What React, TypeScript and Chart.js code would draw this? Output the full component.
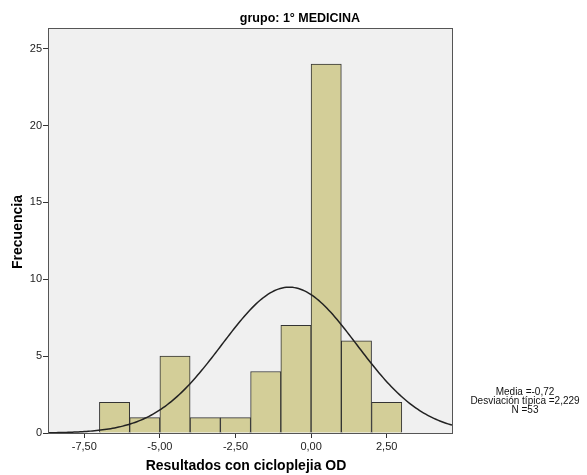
import React, { useEffect, useRef } from "react";
import { Chart, registerables } from "chart.js";

Chart.register(...registerables);

// Histogram bins (lower edges), bin width 1
const binStarts = [-7, -6, -5, -4, -3, -2, -1, 0, 1, 2];
const frequencies = [2, 1, 5, 1, 1, 4, 7, 24, 6, 2];
const xTickValues = [-7.5, -5, -2.5, 0, 2.5];
const yTickValues = [0, 5, 10, 15, 20, 25];
const MEAN = -0.72;
const SD = 2.229;
const N = 53;
const BIN_WIDTH = 1;
const titleText = "grupo: 1° MEDICINA";
const xTitle = "Resultados con cicloplejia OD";
const yTitle = "Frecuencia";
const statsLines = ["Media =-0,72", "Desviación típica =2,229", "N =53"];

const X_MIN = -8.7;
const X_MAX = 4.66;
const Y_MAX = 26.35;

function fmt(v: number) {
  return v.toFixed(2).replace(".", ",");
}

export default function App() {
  const ref = useRef<HTMLCanvasElement | null>(null);
  useEffect(() => {
    document.body.style.margin = "0";
    const canvas = ref.current!;
    const barData = binStarts.map((s, i) => ({ x: s + BIN_WIDTH / 2, y: frequencies[i] }));
    const curve: { x: number; y: number }[] = [];
    const steps = 200;
    for (let i = 0; i <= steps; i++) {
      const x = X_MIN + ((X_MAX - X_MIN) * i) / steps;
      const z = (x - MEAN) / SD;
      const y = (N * BIN_WIDTH) / (SD * Math.sqrt(2 * Math.PI)) * Math.exp(-0.5 * z * z);
      curve.push({ x, y });
    }
    const font = "Arial, 'Liberation Sans', sans-serif";
    const decor = {
      id: "decor",
      beforeDraw(chart: any) {
        const { ctx, chartArea: a } = chart;
        ctx.save();
        ctx.fillStyle = "#f0f0f0";
        ctx.fillRect(a.left, a.top, a.right - a.left, a.bottom - a.top);
        ctx.restore();
      },
      afterDraw(chart: any) {
        const { ctx, chartArea: a } = chart;
        ctx.save();
        ctx.strokeStyle = "#555555";
        ctx.lineWidth = 1;
        ctx.strokeRect(Math.round(a.left) + 0.5, Math.round(a.top) + 0.5, Math.round(a.right - a.left), Math.round(a.bottom - a.top));
        ctx.fillStyle = "#000";
        ctx.textAlign = "center";
        ctx.textBaseline = "middle";
        ctx.font = `bold 12.5px ${font}`;
        ctx.fillText(titleText, 300, 19);
        ctx.font = `bold 14px ${font}`;
        ctx.fillText(xTitle, 246, 466);
        ctx.save();
        ctx.translate(18, 232);
        ctx.rotate(-Math.PI / 2);
        ctx.fillText(yTitle, 0, 0);
        ctx.restore();
        ctx.font = `10px ${font}`;
        ctx.fillStyle = "#111";
        statsLines.forEach((l, i) => ctx.fillText(l, 525, 392 + i * 9));
        ctx.restore();
      },
    };
    const chart = new Chart(canvas, {
      type: "bar",
      data: {
        datasets: [
          {
            type: "line",
            data: curve,
            borderColor: "#222222",
            borderWidth: 1.5,
            pointRadius: 0,
            fill: false,
            tension: 0,
            order: 0,
          } as any,
          {
            type: "bar",
            data: barData,
            backgroundColor: "#d3ce98",
            borderColor: "#333333",
            borderWidth: 1,
            barPercentage: 1,
            categoryPercentage: 1,
            order: 1,
          } as any,
        ],
      },
      options: {
        animation: false,
        responsive: false,
        maintainAspectRatio: false,
        layout: { padding: { left: 0, top: 28, right: 587 - 452, bottom: 0 } },
        plugins: { legend: { display: false }, tooltip: { enabled: false } },
        scales: {
          x: {
            type: "linear",
            min: X_MIN,
            max: X_MAX,
            offset: false,
            afterBuildTicks: (s: any) => {
              s.ticks = xTickValues.map((v) => ({ value: v }));
            },
            afterFit: (s: any) => {
              s.height = 475 - 433;
            },
            ticks: {
              callback: (v: any) => fmt(Number(v)),
              color: "#222",
              font: { family: font, size: 11 },
              padding: 2,
              maxRotation: 0,
              autoSkip: false,
            },
            grid: { offset: false, drawOnChartArea: false, drawTicks: true, tickLength: 5, tickColor: "#333" },
            border: { display: false },
          },
          y: {
            min: 0,
            max: Y_MAX,
            afterBuildTicks: (s: any) => {
              s.ticks = yTickValues.map((v) => ({ value: v }));
            },
            afterFit: (s: any) => {
              s.width = 48;
            },
            ticks: {
              color: "#222",
              font: { family: font, size: 11 },
              padding: 1,
            },
            grid: { drawOnChartArea: false, drawTicks: true, tickLength: 5, tickColor: "#333" },
            border: { display: false },
          },
        },
      } as any,
      plugins: [decor],
    });
    return () => chart.destroy();
  }, []);
  return (
    <div style={{ width: 587, height: 475, background: "#fff" }}>
      <canvas ref={ref} width={587} height={475} style={{ width: 587, height: 475, display: "block" }} />
    </div>
  );
}
